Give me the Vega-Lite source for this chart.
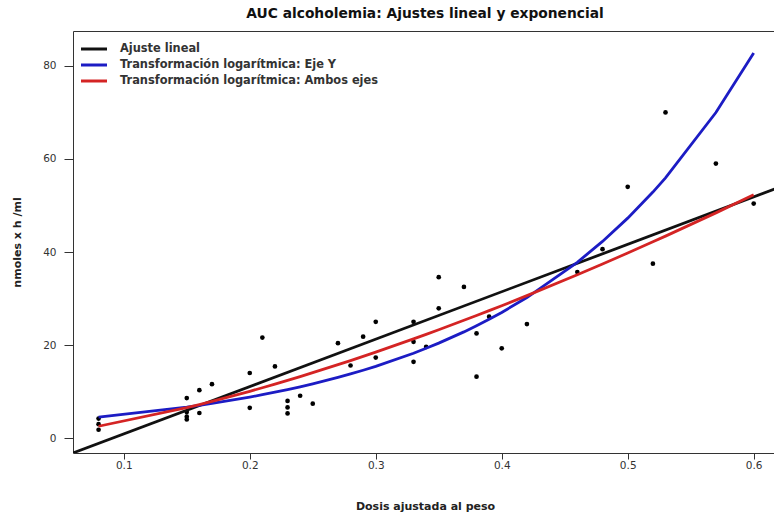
{
  "$schema": "https://vega.github.io/schema/vega-lite/v6.json",
  "width": 704,
  "height": 422,
  "autosize": {"type": "none"},
  "padding": {"left": 73, "top": 31, "right": 0, "bottom": 66},
  "background": "white",
  "title": {
    "text": "AUC alcoholemia: Ajustes lineal y exponencial",
    "anchor": "middle",
    "font": "DejaVu Sans",
    "fontSize": 13.8,
    "fontWeight": "bold",
    "color": "#111",
    "offset": 10
  },
  "config": {
    "view": {"stroke": "#333", "strokeWidth": 1},
    "axis": {
      "grid": false,
      "domain": false,
      "labelFont": "DejaVu Sans",
      "labelFontSize": 10.5,
      "labelColor": "#333",
      "tickColor": "#333",
      "titleFont": "DejaVu Sans",
      "titleFontSize": 11,
      "titleFontWeight": "bold",
      "titleColor": "#222"
    }
  },
  "datasets": {
    "points": [
      {"x": 0.08, "y": 1.8}, {"x": 0.08, "y": 3.0}, {"x": 0.08, "y": 4.2},
      {"x": 0.15, "y": 8.6}, {"x": 0.15, "y": 5.6}, {"x": 0.15, "y": 4.6}, {"x": 0.15, "y": 4.0},
      {"x": 0.16, "y": 10.3}, {"x": 0.16, "y": 5.4},
      {"x": 0.17, "y": 11.6},
      {"x": 0.20, "y": 14.0}, {"x": 0.20, "y": 6.5},
      {"x": 0.21, "y": 21.6},
      {"x": 0.22, "y": 15.4},
      {"x": 0.23, "y": 8.0}, {"x": 0.23, "y": 6.6}, {"x": 0.23, "y": 5.3},
      {"x": 0.24, "y": 9.1},
      {"x": 0.25, "y": 7.4},
      {"x": 0.27, "y": 20.4},
      {"x": 0.28, "y": 15.6},
      {"x": 0.29, "y": 21.8},
      {"x": 0.30, "y": 25.0}, {"x": 0.30, "y": 17.3},
      {"x": 0.33, "y": 25.0}, {"x": 0.33, "y": 20.7}, {"x": 0.33, "y": 16.4},
      {"x": 0.34, "y": 19.6},
      {"x": 0.35, "y": 34.6}, {"x": 0.35, "y": 27.9},
      {"x": 0.37, "y": 32.5},
      {"x": 0.38, "y": 22.5}, {"x": 0.38, "y": 13.2},
      {"x": 0.39, "y": 26.1},
      {"x": 0.40, "y": 19.3},
      {"x": 0.42, "y": 24.5},
      {"x": 0.46, "y": 35.7},
      {"x": 0.48, "y": 40.6},
      {"x": 0.50, "y": 54.0},
      {"x": 0.52, "y": 37.5},
      {"x": 0.53, "y": 70.0},
      {"x": 0.57, "y": 59.0},
      {"x": 0.60, "y": 50.4}
    ],
    "fits": [
      {"serie": "Ajuste lineal", "x": 0.04, "y": -5.2},
      {"serie": "Ajuste lineal", "x": 0.64, "y": 55.9},
      {"serie": "Transformación logarítmica: Eje Y", "x": 0.08, "y": 4.5},
      {"serie": "Transformación logarítmica: Eje Y", "x": 0.15, "y": 6.66},
      {"serie": "Transformación logarítmica: Eje Y", "x": 0.16, "y": 7.04},
      {"serie": "Transformación logarítmica: Eje Y", "x": 0.17, "y": 7.45},
      {"serie": "Transformación logarítmica: Eje Y", "x": 0.20, "y": 8.81},
      {"serie": "Transformación logarítmica: Eje Y", "x": 0.21, "y": 9.32},
      {"serie": "Transformación logarítmica: Eje Y", "x": 0.22, "y": 9.86},
      {"serie": "Transformación logarítmica: Eje Y", "x": 0.23, "y": 10.42},
      {"serie": "Transformación logarítmica: Eje Y", "x": 0.24, "y": 11.02},
      {"serie": "Transformación logarítmica: Eje Y", "x": 0.25, "y": 11.66},
      {"serie": "Transformación logarítmica: Eje Y", "x": 0.27, "y": 13.04},
      {"serie": "Transformación logarítmica: Eje Y", "x": 0.28, "y": 13.79},
      {"serie": "Transformación logarítmica: Eje Y", "x": 0.29, "y": 14.59},
      {"serie": "Transformación logarítmica: Eje Y", "x": 0.30, "y": 15.43},
      {"serie": "Transformación logarítmica: Eje Y", "x": 0.33, "y": 18.25},
      {"serie": "Transformación logarítmica: Eje Y", "x": 0.34, "y": 19.30},
      {"serie": "Transformación logarítmica: Eje Y", "x": 0.35, "y": 20.41},
      {"serie": "Transformación logarítmica: Eje Y", "x": 0.37, "y": 22.83},
      {"serie": "Transformación logarítmica: Eje Y", "x": 0.38, "y": 24.15},
      {"serie": "Transformación logarítmica: Eje Y", "x": 0.39, "y": 25.54},
      {"serie": "Transformación logarítmica: Eje Y", "x": 0.40, "y": 27.01},
      {"serie": "Transformación logarítmica: Eje Y", "x": 0.42, "y": 30.21},
      {"serie": "Transformación logarítmica: Eje Y", "x": 0.46, "y": 37.79},
      {"serie": "Transformación logarítmica: Eje Y", "x": 0.48, "y": 42.27},
      {"serie": "Transformación logarítmica: Eje Y", "x": 0.50, "y": 47.28},
      {"serie": "Transformación logarítmica: Eje Y", "x": 0.52, "y": 52.88},
      {"serie": "Transformación logarítmica: Eje Y", "x": 0.53, "y": 55.93},
      {"serie": "Transformación logarítmica: Eje Y", "x": 0.57, "y": 69.98},
      {"serie": "Transformación logarítmica: Eje Y", "x": 0.60, "y": 82.76},
      {"serie": "Transformación logarítmica: Ambos ejes", "x": 0.08, "y": 2.55},
      {"serie": "Transformación logarítmica: Ambos ejes", "x": 0.15, "y": 6.54},
      {"serie": "Transformación logarítmica: Ambos ejes", "x": 0.16, "y": 7.20},
      {"serie": "Transformación logarítmica: Ambos ejes", "x": 0.17, "y": 7.89},
      {"serie": "Transformación logarítmica: Ambos ejes", "x": 0.20, "y": 10.06},
      {"serie": "Transformación logarítmica: Ambos ejes", "x": 0.21, "y": 10.83},
      {"serie": "Transformación logarítmica: Ambos ejes", "x": 0.22, "y": 11.61},
      {"serie": "Transformación logarítmica: Ambos ejes", "x": 0.23, "y": 12.41},
      {"serie": "Transformación logarítmica: Ambos ejes", "x": 0.24, "y": 13.23},
      {"serie": "Transformación logarítmica: Ambos ejes", "x": 0.25, "y": 14.06},
      {"serie": "Transformación logarítmica: Ambos ejes", "x": 0.27, "y": 15.78},
      {"serie": "Transformación logarítmica: Ambos ejes", "x": 0.28, "y": 16.67},
      {"serie": "Transformación logarítmica: Ambos ejes", "x": 0.29, "y": 17.57},
      {"serie": "Transformación logarítmica: Ambos ejes", "x": 0.30, "y": 18.49},
      {"serie": "Transformación logarítmica: Ambos ejes", "x": 0.33, "y": 21.33},
      {"serie": "Transformación logarítmica: Ambos ejes", "x": 0.34, "y": 22.30},
      {"serie": "Transformación logarítmica: Ambos ejes", "x": 0.35, "y": 23.29},
      {"serie": "Transformación logarítmica: Ambos ejes", "x": 0.37, "y": 25.32},
      {"serie": "Transformación logarítmica: Ambos ejes", "x": 0.38, "y": 26.35},
      {"serie": "Transformación logarítmica: Ambos ejes", "x": 0.39, "y": 27.40},
      {"serie": "Transformación logarítmica: Ambos ejes", "x": 0.40, "y": 28.46},
      {"serie": "Transformación logarítmica: Ambos ejes", "x": 0.42, "y": 30.62},
      {"serie": "Transformación logarítmica: Ambos ejes", "x": 0.46, "y": 35.10},
      {"serie": "Transformación logarítmica: Ambos ejes", "x": 0.48, "y": 37.41},
      {"serie": "Transformación logarítmica: Ambos ejes", "x": 0.50, "y": 39.77},
      {"serie": "Transformación logarítmica: Ambos ejes", "x": 0.52, "y": 42.19},
      {"serie": "Transformación logarítmica: Ambos ejes", "x": 0.53, "y": 43.41},
      {"serie": "Transformación logarítmica: Ambos ejes", "x": 0.57, "y": 48.41},
      {"serie": "Transformación logarítmica: Ambos ejes", "x": 0.60, "y": 52.29}
    ]
  },
  "layer": [
    {
      "data": {"name": "points"},
      "mark": {"type": "point", "filled": true, "color": "black", "size": 22, "opacity": 1, "shape": "circle"},
      "encoding": {
        "x": {
          "field": "x", "type": "quantitative",
          "scale": {"domain": [0.0597, 0.6185], "nice": false, "zero": false},
          "axis": {"values": [0.1, 0.2, 0.3, 0.4, 0.5, 0.6], "format": ".1f", "title": "Dosis ajustada al peso", "tickSize": 6, "labelPadding": 1, "titlePadding": 30}
        },
        "y": {
          "field": "y", "type": "quantitative",
          "scale": {"domain": [-3.2, 87.5], "nice": false, "zero": false},
          "axis": {"values": [0, 20, 40, 60, 80], "title": "nmoles x h /ml", "tickSize": 9, "labelPadding": 8, "titlePadding": 20}
        }
      }
    },
    {
      "data": {"name": "fits"},
      "mark": {"type": "line", "strokeWidth": 2.8, "clip": true},
      "encoding": {
        "x": {"field": "x", "type": "quantitative"},
        "y": {"field": "y", "type": "quantitative"},
        "color": {
          "field": "serie", "type": "nominal",
          "scale": {
            "domain": ["Ajuste lineal", "Transformación logarítmica: Eje Y", "Transformación logarítmica: Ambos ejes"],
            "range": ["#111111", "#1c1cc4", "#d42424"]
          },
          "legend": {
            "title": null,
            "orient": "none",
            "legendX": 13,
            "legendY": 10,
            "symbolType": "M-2,0H2",
            "symbolSize": 169,
            "symbolStrokeWidth": 3,
            "labelFont": "DejaVu Sans",
            "labelFontSize": 11.4,
            "labelFontWeight": "bold",
            "labelColor": "#333",
            "labelLimit": 400,
            "rowPadding": 2,
            "labelOffset": 18
          }
        },
        "order": {"field": "x", "type": "quantitative"}
      }
    }
  ]
}
